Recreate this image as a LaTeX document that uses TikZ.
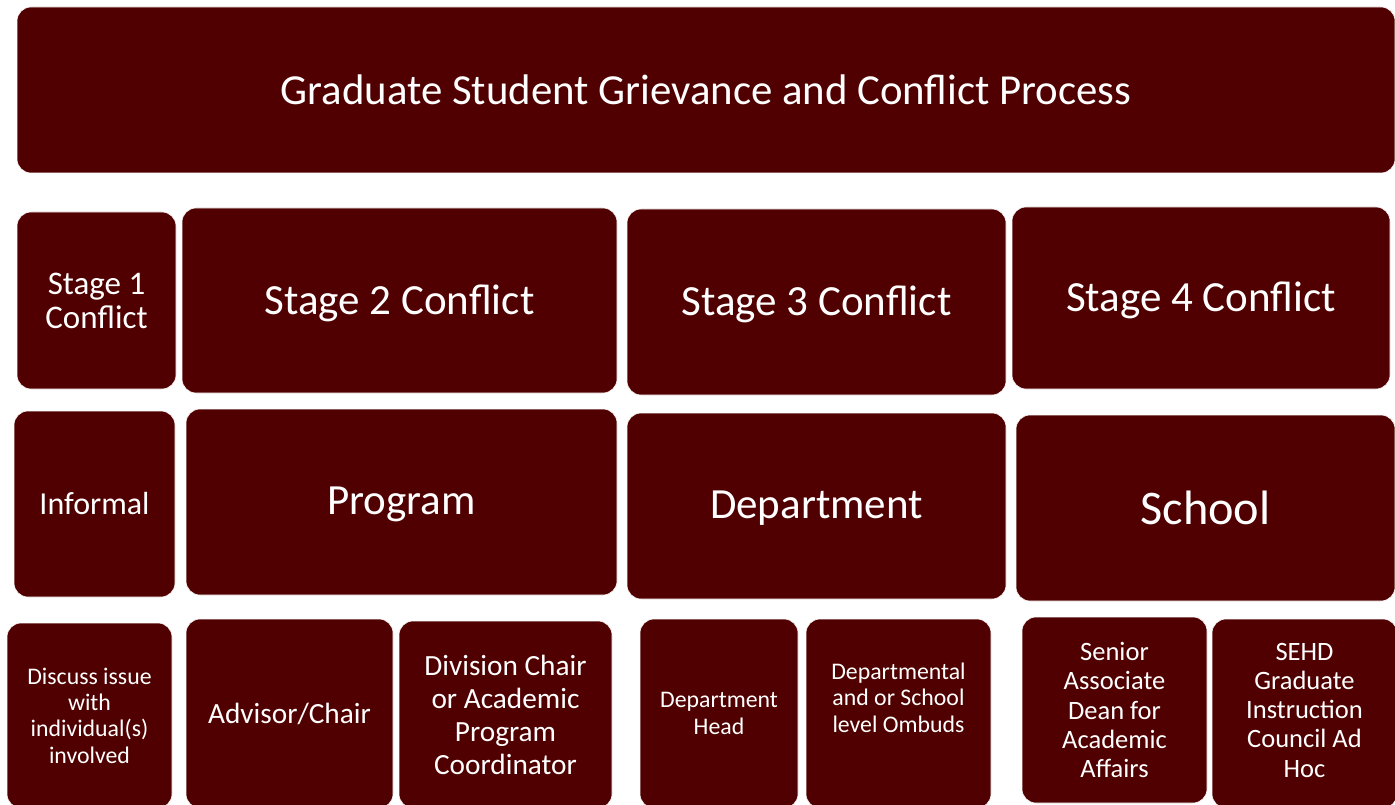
\documentclass[tikz,border=0pt]{standalone}
\usepackage{fontspec}
\setmainfont{Carlito}
\definecolor{maroon}{HTML}{500000}

\begin{document}
\begin{tikzpicture}[x=1pt, y=-1pt]
	\clip (0, 0) rectangle (1395, 805);
	\tikzstyle{every node}=[align=center, inner sep=1pt, text=white]
	\tikzstyle{box}=[rectangle, rounded corners=14pt, fill=maroon, draw=white, line width=0.6pt]
	\tikzstyle{huge}=[font=\fontsize{42.8}{48}\selectfont]
	\tikzstyle{big}=[font=\fontsize{43}{48}\selectfont, text depth=2.5pt]
	\tikzstyle{mid}=[font=\fontsize{29.3}{33}\selectfont]
	\tikzstyle{sml}=[font=\fontsize{26.5}{29.2}\selectfont]
	\tikzstyle{tiny}=[font=\fontsize{23.8}{26.3}\selectfont]

	% heading
	\node[box, huge, minimum width=1378pt, minimum height=166pt] (title) at (706, 90) {Graduate Student Grievance and Conflict Process};

	% stages
	\node[box, mid, font=\fontsize{33}{34}\selectfont, minimum width=159pt, minimum height=177pt] (st1) at (96.5, 300.5) {Stage 1\\Conflict};
	\node[box, big, minimum width=435pt, minimum height=185pt] (st2) at (399.5, 300.5) {Stage 2 Conflict};
	\node[box, big, minimum width=379pt, minimum height=186pt] (st3) at (816.5, 302) {Stage 3 Conflict};
	\node[box, big, minimum width=378pt, minimum height=182pt] (st4) at (1201, 298) {Stage 4 Conflict};

	% levels
	\node[box, mid, font=\fontsize{32}{34}\selectfont, minimum width=161pt, minimum height=186pt] (inf) at (94.5, 504) {Informal};
	\node[box, big, minimum width=431pt, minimum height=186pt] (prog) at (401.5, 502) {Program};
	\node[box, big, minimum width=379pt, minimum height=186pt] (dept) at (816.5, 506) {Department};
	\node[box, huge, font=\fontsize{48.3}{52}\selectfont, minimum width=379pt, minimum height=186pt] (schl) at (1205.5, 508) {School};

	% people
	\node[box, tiny, minimum width=165pt, minimum height=185pt] (disc) at (89.5, 715.5) {Discuss issue\\with\\individual(s)\\involved};
	\node[box, mid, minimum width=207pt, minimum height=189pt] (adv) at (289.5, 713.5) {Advisor/Chair};
	\node[box, mid, minimum width=213pt, minimum height=187pt] (div) at (505.5, 714.5) {Division Chair\\or Academic\\Program\\Coordinator};
	\node[box, tiny, minimum width=158pt, minimum height=189pt] (head) at (719, 713.5) {Department\\Head};
	\node[box, tiny, text depth=32pt, minimum width=185pt, minimum height=189pt] (omb) at (898.5, 713.5) {Departmental\\and or School\\level Ombuds};
	\node[box, sml, minimum width=185pt, minimum height=186pt] (sad) at (1114.5, 710) {Senior\\Associate\\Dean for\\Academic\\Affairs};
	\node[box, sml, text depth=7pt, minimum width=185pt, minimum height=189pt] (sehd) at (1304.5, 713.5) {SEHD\\Graduate\\Instruction\\Council Ad\\Hoc};
\end{tikzpicture}
\end{document}
